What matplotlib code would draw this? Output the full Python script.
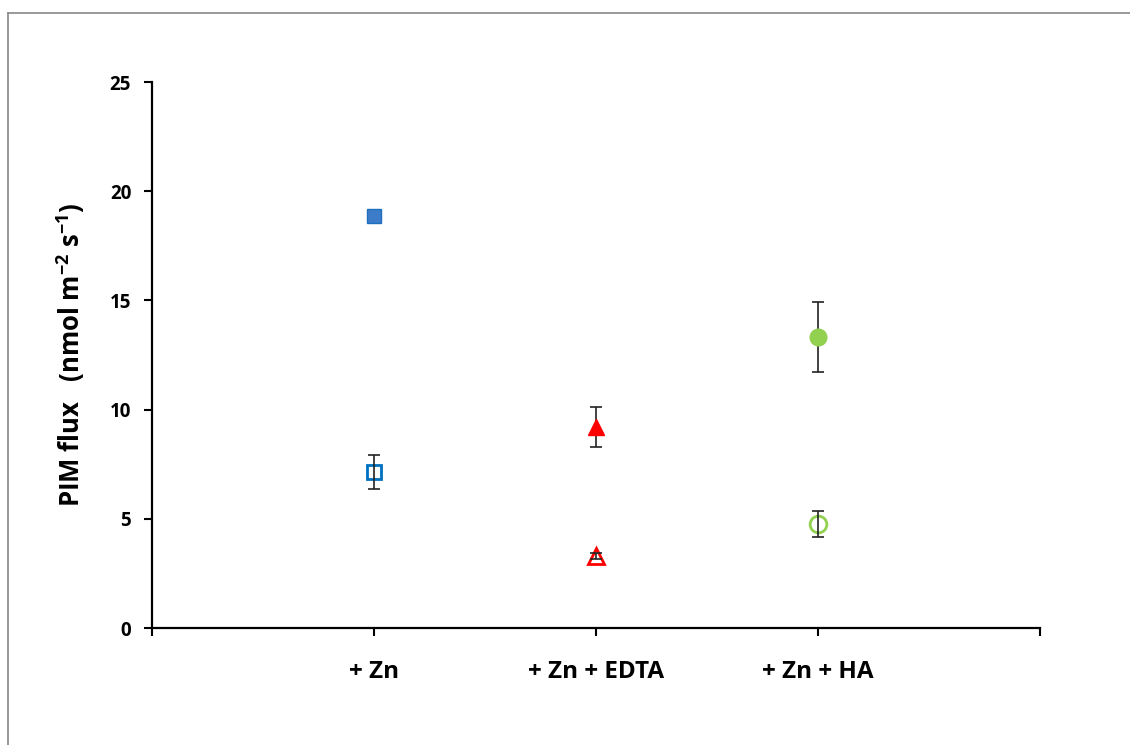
import matplotlib
matplotlib.use("Agg")
import matplotlib.pyplot as plt
from matplotlib.lines import Line2D

plt.rcParams['font.family'] = ['Open Sans', 'DejaVu Sans']
plt.rcParams['mathtext.fontset'] = 'custom'
plt.rcParams['mathtext.rm'] = 'Open Sans'
plt.rcParams['mathtext.bf'] = 'Open Sans:bold'
plt.rcParams['mathtext.default'] = 'bf'

categories = ["+ Zn", "+ Zn + EDTA", "+ Zn + HA"]
x_pos = [1, 2, 3]

filled_vals = [18.86, 9.2, 13.32]
filled_err = [0.18, 0.92, 1.62]
open_vals = [7.14, 3.3, 4.76]
open_err = [0.76, 0.15, 0.6]

markers = ["s", "^", "o"]
fill_colors = ["#3D7CC9", "#FF0000", "#92D050"]
edge_colors = ["#1F6FBF", "#FF0000", "#92D050"]
open_colors = ["#0070C0", "#FF0000", "#92D050"]
sizes = [9.5, 12, 12]
open_sizes = [10, 11, 12]

fig = plt.figure(figsize=(11.3, 7.45), dpi=100)
ax = fig.add_axes([152/1130, 117/745, (1040-152)/1130, (628-82)/745])

for i in range(3):
    ax.errorbar(x_pos[i], filled_vals[i], yerr=filled_err[i], fmt='none',
                ecolor='#222222', elinewidth=1.2, capsize=4, capthick=1.2, zorder=2)
    ax.plot(x_pos[i], filled_vals[i], marker=markers[i], ms=sizes[i],
            mfc=fill_colors[i], mec=edge_colors[i], mew=1, ls='none', zorder=3)
    ax.plot(x_pos[i], open_vals[i], marker=markers[i], ms=open_sizes[i],
            mfc='none', mec=open_colors[i], mew=2, ls='none', zorder=3)
    ax.errorbar(x_pos[i], open_vals[i], yerr=open_err[i], fmt='none',
                ecolor='#222222', elinewidth=1.2, capsize=4, capthick=1.2, zorder=4)

ax.set_xlim(0, 4)
ax.set_ylim(0, 25)
ax.set_yticks([0, 5, 10, 15, 20, 25])
ax.set_xticks([0, 1, 2, 3, 4])
ax.set_xticklabels([""] + categories + [""], fontsize=17.5, fontweight='bold')
ax.tick_params(axis='x', direction='out', length=6, width=1.5, pad=17)
ax.tick_params(axis='y', direction='out', length=6, width=1.5, labelsize=13.5, pad=9)
for lab in ax.get_yticklabels():
    lab.set_fontweight('bold')
for s in ['top', 'right']:
    ax.spines[s].set_visible(False)
for s in ['left', 'bottom']:
    ax.spines[s].set_linewidth(1.6)
    ax.spines[s].set_color('black')

ax.set_ylabel(r"PIM flux   (nmol m$^{-2}$ s$^{-1}$)", fontsize=18.5,
              fontweight='bold', labelpad=16)

# outer frame
fig.add_artist(Line2D([8/1130, 8/1130], [0, 1 - 13/745], transform=fig.transFigure,
                      color='#888888', lw=1.2))
fig.add_artist(Line2D([8/1130, 1], [1 - 13/745, 1 - 13/745], transform=fig.transFigure,
                      color='#888888', lw=1.2))

fig.savefig("out.png", dpi=100)
